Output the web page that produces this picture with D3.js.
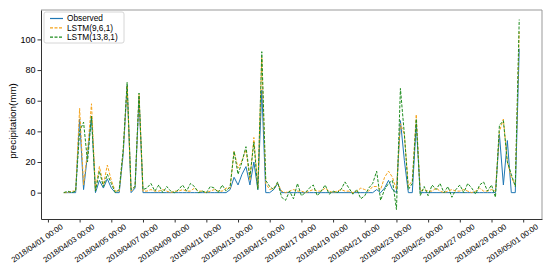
<!DOCTYPE html>
<html>
<head>
<meta charset="utf-8">
<script src="https://cdn.jsdelivr.net/npm/d3@7"></script>
<style>
  body { margin: 0; background: #fff; }
  text { font-family: "Liberation Sans", Arial, sans-serif; fill: #000; }
</style>
</head>
<body>
<svg id="chart" width="550" height="266"></svg>
<script>
// 6-hourly samples, 2018/04/02 00:00 .. 2018/04/30 18:00
var startTime = '2018-04-02T00:00';
var stepHours = 6;

var observed = [
  0, 0, 0, 0, 48, 2, 25, 50, 0, 8, 3, 9, 3, 0, 0, 25, 70, 0, 3, 62, 0,
  0, 0, 0, 0, 0, 0, 0, 0, 0, 0, 0, 0, 0, 0, 0, 0, 0, 0, 0, 0, 0,
  2, 10, 5, 12, 17, 5, 20, 2, 67, 0, 0, 2, 6,
  0, 0, 0, 0, 0, 0, 0, 0, 0, 0, 0, 0, 0, 0, 0, 0, 0, 0, 0, 0, 0, 0, 0, 0,
  2, 0, 3, 8, 2, 0, 47, 21, 0, 0, 45,
  0, 0, 0, 0, 0, 0, 0, 0, 0, 0, 0, 0, 0, 0, 0, 0, 0, 0, 0, 0,
  38, 5, 34, 0, 0, 94
];

var lstm961 = [
  0, 0, 1, 1, 55, 5, 27, 58, 2, 17, 5, 18, 8, 1, 1, 27, 70, 1, 4, 64, 1,
  1, 2, 1, 1, 2, 1, 0, 1, 1, 2, 1, 1, 3, 1, 1, 0, 1, 2, 1, 1, 3,
  3, 27, 16, 21, 28, 8, 36, 3, 88, 6, 2, 3, 6,
  1, 0, 1, 2, 1, 1, 0, 1, 2, 1, 1, 3, 1, 0, 1, 2, 1, 1, 0, 1, 3, 2, 1, 4,
  4, 2, 10, 14, 10, 2, 45, 38, 4, 8, 51,
  1, 2, 1, 1, 3, 1, 0, 1, 2, 1, 1, 2, 1, 0, 1, 3, 1, 1, 2, 1,
  40, 48, 20, 10, 5, 105
];

var lstm1381 = [
  0, 1, 0, 1, 40, 46, 20, 50, 1, 14, 4, 12, 6, 0, 2, 28, 72, 2, 4, 65, 2,
  3, 6, 1, 5, 0, 4, 1, 0, 2, 5, 1, 6, 4, 0, 1, 0, 4, 3, 0, 5, 1,
  4, 27, 12, 20, 30, 10, 33, 2, 92, 8, 4, 2, 7,
  -3, -5, 1, -4, 6, -2, 0, 3, 5, -2, 1, 5, -1, 1, 0, 2, 7, 3, -1, 2, -4, -2, 3, 6,
  14, -5, 2, 6, 8, -11, 68, 38, 2, 6, 48,
  -2, 4, -2, 5, 2, 6, 0, 4, -3, 2, 5, 0, 6, 3, -1, 5, 7, 1, 5, -3,
  44, 47, 20, 12, 4, 113
];

var seriesNames = ['Observed', 'LSTM(9,6,1)', 'LSTM(13,8,1)'];
var seriesColors = ['#1f77b4', '#f5a31a', '#1e8c1e'];

var xTickLabels = [
  '2018/04/01 00:00', '2018/04/03 00:00', '2018/04/05 00:00', '2018/04/07 00:00',
  '2018/04/09 00:00', '2018/04/11 00:00', '2018/04/13 00:00', '2018/04/15 00:00',
  '2018/04/17 00:00', '2018/04/19 00:00', '2018/04/21 00:00', '2018/04/23 00:00',
  '2018/04/25 00:00', '2018/04/27 00:00', '2018/04/29 00:00', '2018/05/01 00:00'
];
var yTicks = [0, 20, 40, 60, 80, 100];

// plot box
var margin = {top: 10, left: 41, right: 8, bottom: 47};
var width = 550 - margin.left - margin.right;
var height = 266 - margin.top - margin.bottom;

var svg = d3.select('#chart');
var g = svg.append('g')
  .attr('transform', 'translate(' + margin.left + ',' + margin.top + ')');

var parseStart = d3.utcParse('%Y-%m-%dT%H:%M');
var parseTick = d3.utcParse('%Y/%m/%d %H:%M');
var t0 = parseStart(startTime);
var times = observed.map(function(d, i) { return d3.utcHour.offset(t0, i * stepHours); });

var series = [observed, lstm961, lstm1381].map(function(vals, k) {
  return {
    name: seriesNames[k],
    color: seriesColors[k],
    values: vals.map(function(v, i) { return {date: times[i], value: v}; })
  };
});

// matplotlib-like 5% margins
var tExt = d3.extent(times);
var tPad = (tExt[1] - tExt[0]) * 0.05;
var x = d3.scaleUtc()
  .domain([new Date(+tExt[0] - tPad), new Date(+tExt[1] + tPad)])
  .range([0, width]);

var allVals = observed.concat(lstm961, lstm1381);
var yExt = d3.extent(allVals);
var yPad = (yExt[1] - yExt[0]) * 0.05;
var y = d3.scaleLinear()
  .domain([yExt[0] - yPad, yExt[1] + yPad])
  .range([height, 0]);

// lines
var line = d3.line()
  .x(function(d) { return x(d.date); })
  .y(function(d) { return y(d.value); });

var plot = g.append('g');
plot.selectAll('.series')
  .data(series)
  .enter().append('path')
  .attr('class', 'series')
  .attr('fill', 'none')
  .attr('stroke', function(d) { return d.color; })
  .attr('stroke-width', 1)
  .attr('stroke-dasharray', function(d, i) { return i === 0 ? null : '3,1.5'; })
  .attr('d', function(d) { return line(d.values); });

// frame
g.append('line').attr('x1', 0).attr('x2', width).attr('y1', 0).attr('y2', 0)
  .attr('stroke', '#999').attr('stroke-width', 1);
g.append('line').attr('x1', width).attr('x2', width).attr('y1', 0).attr('y2', height)
  .attr('stroke', '#999').attr('stroke-width', 1);

// y axis
var yAxis = g.append('g')
  .call(d3.axisLeft(y).tickValues(yTicks).tickSize(3.5).tickSizeOuter(0).tickPadding(2));
yAxis.select('.domain').attr('stroke', '#333');
yAxis.selectAll('.tick line').attr('stroke', '#333');
yAxis.selectAll('.tick text').style('font-size', '9px');

// x axis
var xAxis = g.append('g')
  .attr('transform', 'translate(0,' + height + ')')
  .call(d3.axisBottom(x)
    .tickValues(xTickLabels.map(parseTick))
    .tickSize(3.5)
    .tickSizeOuter(0)
    .tickFormat(d3.utcFormat('%Y/%m/%d %H:%M')));
xAxis.select('.domain').attr('stroke', '#333');
xAxis.selectAll('.tick line').attr('stroke', '#333');
xAxis.selectAll('.tick text')
  .style('font-size', '7.8px')
  .attr('x', 0)
  .attr('y', 0)
  .attr('dy', null)
  .attr('text-anchor', 'end')
  .attr('transform', 'translate(15,9) rotate(-35)');

// y label
svg.append('text')
  .attr('transform', 'translate(16,121) rotate(-90)')
  .attr('text-anchor', 'middle')
  .style('font-size', '9.8px')
  .text('precipitation(mm)');

// legend
var legend = g.append('g').attr('transform', 'translate(3,2)');
legend.append('rect')
  .attr('width', 80).attr('height', 31).attr('rx', 2)
  .attr('fill', '#fff').attr('fill-opacity', 0.8)
  .attr('stroke', '#ccc').attr('stroke-width', 0.8);

var items = legend.selectAll('.item')
  .data(series)
  .enter().append('g')
  .attr('class', 'item')
  .attr('transform', function(d, i) { return 'translate(0,' + (6.5 + i * 9.3) + ')'; });

items.append('line')
  .attr('x1', 6).attr('x2', 19)
  .attr('stroke', function(d) { return d.color; })
  .attr('stroke-width', 1.2)
  .attr('stroke-dasharray', function(d, i) { return i === 0 ? null : '3,1.5'; });

items.append('text')
  .attr('x', 23)
  .attr('dy', '0.35em')
  .style('font-size', '8.3px')
  .text(function(d) { return d.name; });
</script>
</body>
</html>
